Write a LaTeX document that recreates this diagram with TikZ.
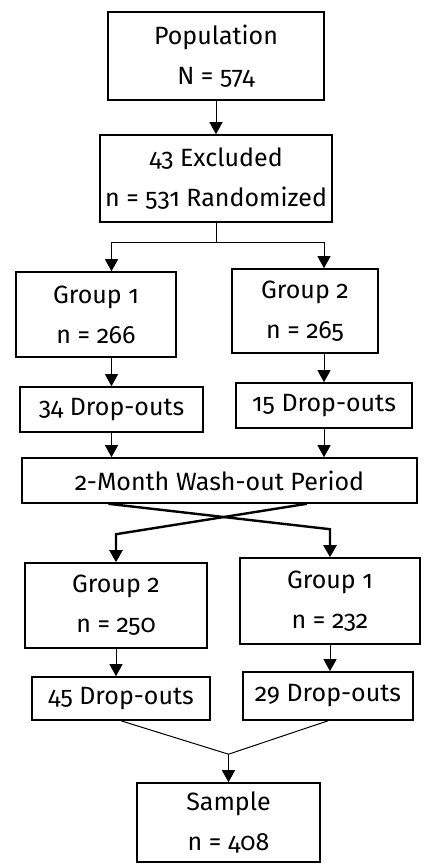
\documentclass[tikz,border=0pt]{standalone}
\usepackage{fontspec}
\setmainfont[Numbers=OldStyle]{Fira Sans}
\usetikzlibrary{arrows.meta,calc}

\begin{document}
\begin{tikzpicture}[x=1pt,y=1pt,
    box/.style={draw,line width=1.6pt,align=center,inner sep=0pt,font=\fontsize{25}{40}\selectfont},
    arr/.style={line width=1pt,-{Triangle[width=13pt,length=12pt]}},
    crossarr/.style={line width=2.4pt,-{Triangle[width=13pt,length=12pt]}}]
    \useasboundingbox (0,0) rectangle (424,-865);
    \node[box,minimum width=216pt,minimum height=88pt] (pop) at (216,-56) {Population\\N = 574};
    \node[box,minimum width=232pt,minimum height=87pt] (excl) at (216,-178.5) {43 Excluded\\n = 531 Randomized};
    \node[box,minimum width=160pt,minimum height=85pt] (grpA) at (96,-314.5) {Group 1\\n = 266};
    \node[box,minimum width=146pt,minimum height=84pt] (grpB) at (305,-311) {Group 2\\n = 265};
    \node[box,minimum width=183pt,minimum height=45pt] (dropA) at (111.5,-409.5) {34 Drop-outs};
    \node[box,minimum width=176pt,minimum height=45pt] (dropB) at (324,-405.5) {15 Drop-outs};
    \node[box,minimum width=395pt,minimum height=45pt] (wash) at (219.5,-480.5) {2-Month Wash-out Period};
    \node[box,minimum width=182pt,minimum height=85pt] (grpC) at (116,-605.5) {Group 2\\n = 250};
    \node[box,minimum width=180pt,minimum height=86pt] (grpD) at (330,-601) {Group 1\\n = 232};
    \node[box,minimum width=178pt,minimum height=43pt] (dropC) at (121,-698.5) {45 Drop-outs};
    \node[box,minimum width=170pt,minimum height=48pt] (dropD) at (328,-696) {29 Drop-outs};
    \node[box,minimum width=183pt,minimum height=79pt] (sample) at (228.5,-822.5) {Sample\\n = 408};

    \draw[arr] (pop.south) -- (excl.north);
    \draw[line width=1pt] (excl.south) -- ++(0,-20) coordinate (split);
    \draw[arr] (split) -| (dropA.north |- grpA.north);
    \draw[arr] (split) -| (dropB.north |- grpB.north);
    \draw[arr] (dropA.north |- grpA.south) -- (dropA.north);
    \draw[arr] (dropB.north |- grpB.south) -- (dropB.north);
    \draw[arr] (dropA.south) -- (dropA.south |- wash.north);
    \draw[arr] (dropB.south) -- (dropB.south |- wash.north);
    \draw[crossarr] ($(wash.south west)!.22!(wash.south east)$) -- ($(grpD.north)+(0,28)$) -- (grpD.north);
    \draw[crossarr] ($(wash.south west)!.72!(wash.south east)$) -- ($(grpC.north)+(0,28)$) -- (grpC.north);
    \draw[arr] (grpC.south) -- (grpC.south |- dropC.north);
    \draw[arr] (grpD.south) -- (grpD.south |- dropD.north);
    \coordinate (merge) at ($(sample.north)+(0,28)$);
    \draw[line width=1pt] (dropC.south) -- (merge) -- (dropD.south);
    \draw[arr] (merge) -- (sample.north);
\end{tikzpicture}
\end{document}
